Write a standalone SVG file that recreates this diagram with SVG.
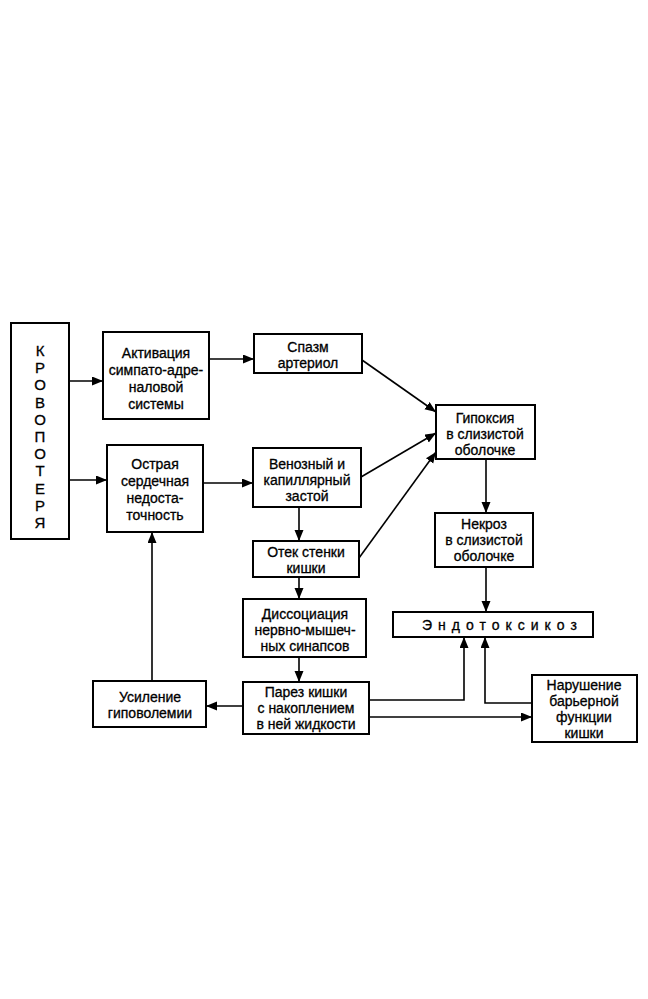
<svg xmlns="http://www.w3.org/2000/svg" width="648" height="999" viewBox="0 0 648 999">
<defs>
<style>
.box{fill:#fff;stroke:#000;stroke-width:2}
.t{font-family:"Liberation Sans",Arial,sans-serif;font-size:14px;fill:#000;text-anchor:middle;stroke:#000;stroke-width:0.3}
.v{font-family:"Liberation Sans",Arial,sans-serif;font-size:15px;fill:#000;text-anchor:middle;stroke:#000;stroke-width:0.3}
.e{font-family:"Liberation Sans",Arial,sans-serif;font-size:14px;fill:#000;letter-spacing:6px;stroke:#000;stroke-width:0.3}
.c{fill:none;stroke:#000;stroke-width:1.6}
</style>
<marker id="ah" markerUnits="userSpaceOnUse" markerWidth="12" markerHeight="10" refX="11" refY="4.5" orient="auto">
<path d="M0,0 L11,4.5 L0,9 z" fill="#000"/>
</marker>
</defs>
<rect width="648" height="999" fill="#fff"/>

<g id="krovopoterya">
<rect class="box" x="11" y="323" width="58" height="216"/>
<text class="v" x="40" y="356">К</text>
<text class="v" x="40" y="373">Р</text>
<text class="v" x="40" y="390">О</text>
<text class="v" x="40" y="408">В</text>
<text class="v" x="40" y="425">О</text>
<text class="v" x="40" y="442">П</text>
<text class="v" x="40" y="459">О</text>
<text class="v" x="40" y="476">Т</text>
<text class="v" x="40" y="494">Е</text>
<text class="v" x="40" y="511">Р</text>
<text class="v" x="40" y="528">Я</text>
</g>

<g id="aktivaciya">
<rect class="box" x="103" y="332" width="106" height="87"/>
<text class="t" x="156" y="358">Активация</text>
<text class="t" x="156" y="375">симпато-адре-</text>
<text class="t" x="156" y="392">наловой</text>
<text class="t" x="156" y="409">системы</text>
</g>

<g id="ostraya">
<rect class="box" x="107" y="445" width="96" height="87"/>
<text class="t" x="155" y="469">Острая</text>
<text class="t" x="155" y="486">сердечная</text>
<text class="t" x="155" y="503">недоста-</text>
<text class="t" x="155" y="520">точность</text>
</g>

<g id="spazm">
<rect class="box" x="254" y="334" width="108" height="39"/>
<text class="t" x="308" y="352">Спазм</text>
<text class="t" x="308" y="368">артериол</text>
</g>

<g id="venozny">
<rect class="box" x="253" y="448" width="108" height="59"/>
<text class="t" x="307" y="469">Венозный и</text>
<text class="t" x="307" y="485">капиллярный</text>
<text class="t" x="307" y="501">застой</text>
</g>

<g id="gipoksiya">
<rect class="box" x="436" y="405" width="99" height="54"/>
<text class="t" x="485" y="423">Гипоксия</text>
<text class="t" x="485" y="439">в слизистой</text>
<text class="t" x="485" y="455">оболочке</text>
</g>

<g id="nekroz">
<rect class="box" x="435" y="513" width="98" height="54"/>
<text class="t" x="484" y="529">Некроз</text>
<text class="t" x="484" y="545">в слизистой</text>
<text class="t" x="484" y="561">оболочке</text>
</g>

<g id="otek">
<rect class="box" x="253" y="541" width="106" height="36"/>
<text class="t" x="306" y="557">Отек стенки</text>
<text class="t" x="306" y="573">кишки</text>
</g>

<g id="dissociaciya">
<rect class="box" x="243" y="599" width="123" height="58"/>
<text class="t" x="305" y="619">Диссоциация</text>
<text class="t" x="305" y="635">нервно-мышеч-</text>
<text class="t" x="305" y="651">ных синапсов</text>
</g>

<g id="parez">
<rect class="box" x="243" y="682" width="126" height="52"/>
<text class="t" x="306" y="697">Парез кишки</text>
<text class="t" x="306" y="713">с накоплением</text>
<text class="t" x="306" y="729">в ней жидкости</text>
</g>

<g id="usilenie">
<rect class="box" x="93" y="681" width="113" height="46"/>
<text class="t" x="150" y="702">Усиление</text>
<text class="t" x="150" y="718">гиповолемии</text>
</g>

<g id="endotoksikoz">
<rect class="box" x="393" y="612" width="200" height="25"/>
<text class="e" x="422" y="630">Эндотоксикоз</text>
</g>

<g id="narushenie">
<rect class="box" x="532" y="675" width="105" height="67"/>
<text class="t" x="584" y="690">Нарушение</text>
<text class="t" x="584" y="706">барьерной</text>
<text class="t" x="584" y="722">функции</text>
<text class="t" x="584" y="738">кишки</text>
</g>

<g id="connectors">
<line class="c" x1="69" y1="381" x2="103" y2="381" marker-end="url(#ah)"/>
<line class="c" x1="69" y1="480" x2="107" y2="480" marker-end="url(#ah)"/>
<line class="c" x1="209" y1="359" x2="254" y2="359" marker-end="url(#ah)"/>
<line class="c" x1="203" y1="483" x2="253" y2="483" marker-end="url(#ah)"/>
<line class="c" x1="362" y1="360" x2="436" y2="412" marker-end="url(#ah)"/>
<line class="c" x1="361" y1="477" x2="436" y2="433" marker-end="url(#ah)"/>
<line class="c" x1="359" y1="558" x2="436" y2="452" marker-end="url(#ah)"/>
<line class="c" x1="299" y1="507" x2="299" y2="541" marker-end="url(#ah)"/>
<line class="c" x1="299" y1="577" x2="299" y2="599" marker-end="url(#ah)"/>
<line class="c" x1="299" y1="657" x2="299" y2="682" marker-end="url(#ah)"/>
<line class="c" x1="243" y1="706" x2="206" y2="706" marker-end="url(#ah)"/>
<line class="c" x1="152" y1="681" x2="152" y2="532" marker-end="url(#ah)"/>
<line class="c" x1="486" y1="459" x2="486" y2="513" marker-end="url(#ah)"/>
<line class="c" x1="486" y1="567" x2="486" y2="612" marker-end="url(#ah)"/>
<polyline class="c" points="369,700 464,700 464,637" marker-end="url(#ah)"/>
<line class="c" x1="369" y1="717" x2="532" y2="717" marker-end="url(#ah)"/>
<polyline class="c" points="532,703 485,703 485,637" marker-end="url(#ah)"/>
</g>
</svg>
